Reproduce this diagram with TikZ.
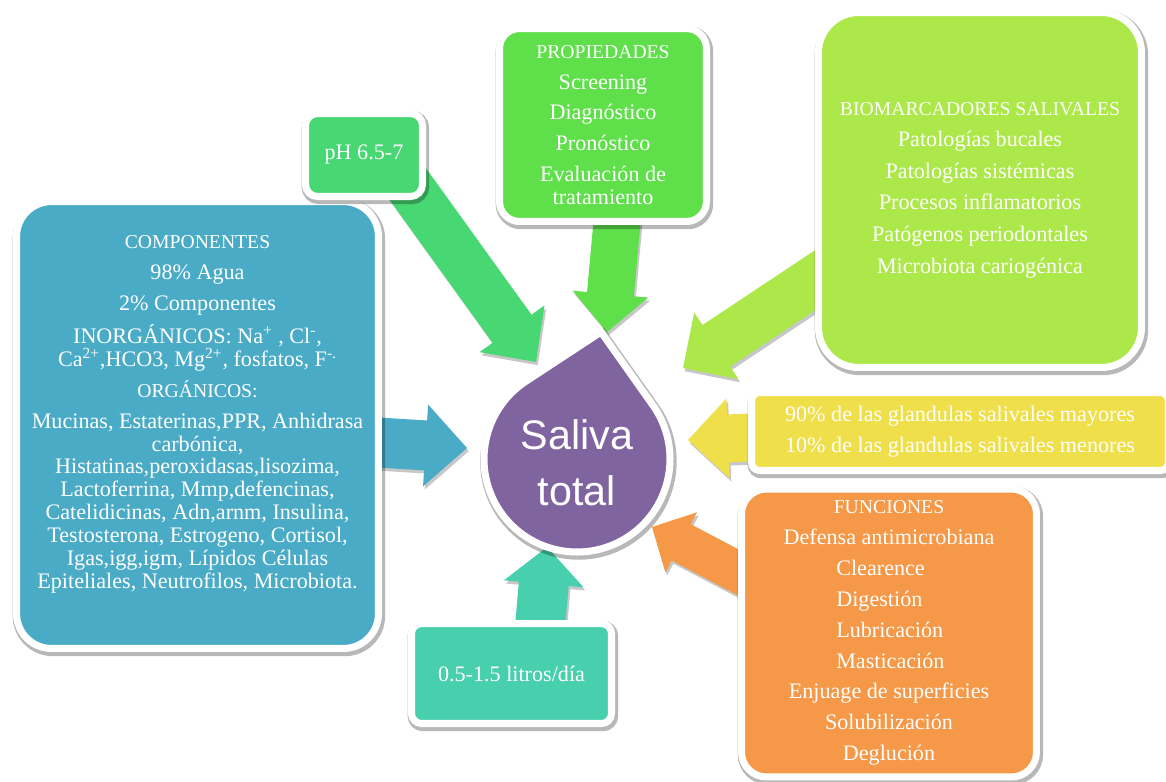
\documentclass[tikz,border=0pt]{standalone}
\usepackage{fontspec}
\setmainfont{Liberation Serif}
\newfontfamily\dropfont{Liberation Sans}
\usetikzlibrary{calc,shadows}

\tikzset{
  rim shadow/.style={drop shadow={shadow xshift=0.8pt, shadow yshift=-1.4pt, opacity=0.28,
    fill=black, draw=black, line width=6pt}},
  card/.style={draw=white, line width=4pt, text=white, align=center, inner sep=0pt,
    font=\fontsize{12.6}{13}\selectfont, rim shadow},
  cardtext/.style={text=white, align=center, font=\fontsize{12.6}{13}\selectfont},
  arrowshade/.style={drop shadow={shadow xshift=1pt, shadow yshift=-1.8pt, opacity=0.22, fill=black}},
}
\newcommand\hd{\fontsize{11.2}{13}\selectfont}

\begin{document}
\begin{tikzpicture}[x=0.02cm, y=-0.02cm]
    \definecolor{comp-blue}{HTML}{4AABC6}
    \definecolor{ph-green}{HTML}{47D873}
    \definecolor{prop-green}{HTML}{5FE04B}
    \definecolor{bio-green}{HTML}{ACE84A}
    \definecolor{gland-yellow}{HTML}{EFDF4A}
    \definecolor{func-orange}{HTML}{F59847}
    \definecolor{flow-teal}{HTML}{48CFAD}
    \definecolor{drop-purple}{HTML}{7F64A0}
    \def\blockarrow#1#2#3#4#5#6{% colour, tail, tip, half shaft, half head, head length
      \coordinate (neck) at ($(#3)!#6!(#2)$);
      \fill[#1, arrowshade] ($(#2)!#4!90:(#3)$) -- ($(neck)!#4!90:(#3)$) -- ($(neck)!#5!90:(#3)$) -- (#3)
        -- ($(neck)!#5!-90:(#3)$) -- ($(neck)!#4!-90:(#3)$) -- ($(#2)!#4!-90:(#3)$) -- cycle;
    }
    \useasboundingbox (0,0) rectangle (1166,781);

    % arrow ends
    \coordinate (phtail) at (384,151);   \coordinate (phtip) at (536,362);
    \coordinate (proptail) at (619,200); \coordinate (proptip) at (607,332);
    \coordinate (biotail) at (850,257);  \coordinate (biotip) at (683,368);
    \coordinate (glandtail) at (790,436); \coordinate (glandtip) at (688,440);
    \coordinate (functail) at (785,597); \coordinate (functip) at (652,527);
    \coordinate (flowtail) at (538,650); \coordinate (flowtip) at (547,547);
    \coordinate (comptail) at (370,442); \coordinate (comptip) at (467,448);

    \blockarrow{ph-green}{phtail}{phtip}{0.48cm}{0.8cm}{0.82cm}
    \blockarrow{prop-green}{proptail}{proptip}{0.47cm}{0.76cm}{0.76cm}
    \blockarrow{bio-green}{biotail}{biotip}{0.5cm}{0.8cm}{0.8cm}
    \blockarrow{gland-yellow}{glandtail}{glandtip}{0.48cm}{0.8cm}{0.8cm}
    \blockarrow{func-orange}{functail}{functip}{0.41cm}{0.68cm}{0.66cm}
    \blockarrow{flow-teal}{flowtail}{flowtip}{0.5cm}{0.8cm}{0.74cm}
    \blockarrow{comp-blue}{comptail}{comptip}{0.5cm}{0.82cm}{0.83cm}

    % boxes
    \node[card, fill=comp-blue, minimum width=7.24cm, minimum height=8.94cm, rounded corners=0.7cm] (comp) at (197.5,425) {};
    \node[cardtext] (comptext) at (197.5,414) {{\hd COMPONENTES}\\[4.6pt]
      98\% Agua\\[4.6pt]
      2\% Componentes\\[4.6pt]
      INORGÁNICOS: Na\textsuperscript{+} , Cl\textsuperscript{-},\\
      Ca\textsuperscript{2+},HCO3, Mg\textsuperscript{2+}, fosfatos, F\textsuperscript{-.}\\[4.6pt]
      {\hd ORGÁNICOS:}\\[4.6pt]
      Mucinas, Estaterinas,PPR, Anhidrasa\\
      carbónica,\\
      Histatinas,peroxidasas,lisozima,\\
      Lactoferrina, Mmp,defencinas,\\
      Catelidicinas, Adn,arnm, Insulina,\\
      Testosterona, Estrogeno, Cortisol,\\
      Igas,igg,igm, Lípidos Células\\
      Epiteliales, Neutrofilos, Microbiota.};
    \node[card, fill=ph-green, minimum width=2.34cm, minimum height=1.66cm, rounded corners=0.24cm] (ph) at (364,155) {pH 6.5-7};
    \node[card, fill=prop-green, minimum width=4.14cm, minimum height=3.86cm, rounded corners=0.4cm] (prop) at (603,125)
      {{\hd PROPIEDADES}\\[4.6pt] Screening\\[4.6pt] Diagnóstico\\[4.6pt] Pronóstico\\[4.6pt] Evaluación de\\ tratamiento};
    \node[card, fill=bio-green, minimum width=6.46cm, minimum height=7.1cm, rounded corners=0.8cm] (bio) at (980,190)
      {{\hd BIOMARCADORES SALIVALES}\\[5pt] Patologías bucales\\[5pt] Patologías sistémicas\\[5pt]
       Procesos inflamatorios\\[5pt] Patógenos periodontales\\[5pt] Microbiota cariogénica};
    \node[card, fill=gland-yellow, minimum width=8.34cm, minimum height=1.56cm, rounded corners=0.16cm] (gland) at (960,431.5)
      {90\% de las glandulas salivales mayores\\[4.6pt] 10\% de las glandulas salivales menores};
    \node[card, fill=func-orange, minimum width=5.9cm, minimum height=5.76cm, rounded corners=0.5cm] (func) at (889,633)
      {{\hd FUNCIONES}\\[4.6pt] Defensa antimicrobiana\\[4.6pt]
       \makebox[60pt][l]{Clearence}\\[4.6pt] \makebox[60pt][l]{Digestión}\\[4.6pt]
       \makebox[60pt][l]{Lubricación}\\[4.6pt] \makebox[60pt][l]{Masticación}\\[4.6pt]
       Enjuage de superficies\\[4.6pt] Solubilización\\[4.6pt] Deglución};
    \node[card, fill=flow-teal, minimum width=4cm, minimum height=2cm, rounded corners=0.2cm] (flow) at (511.5,673.5) {0.5-1.5 litros/día};

    % drop
    \coordinate (dropc) at (577,459);
    \coordinate (droptip) at (601,332);
    \draw[draw=white, line width=4pt, fill=drop-purple, line join=miter, rim shadow]
      (droptip) -- ($(dropc)+(-34.3:93)$) arc[start angle=-34.3, end angle=235.7, radius=93] -- cycle;
    \node[text=white, align=center, font=\dropfont\fontsize{23.5}{32}\selectfont] (saliva) at (577,463) {Saliva\\total};
\end{tikzpicture}
\end{document}
